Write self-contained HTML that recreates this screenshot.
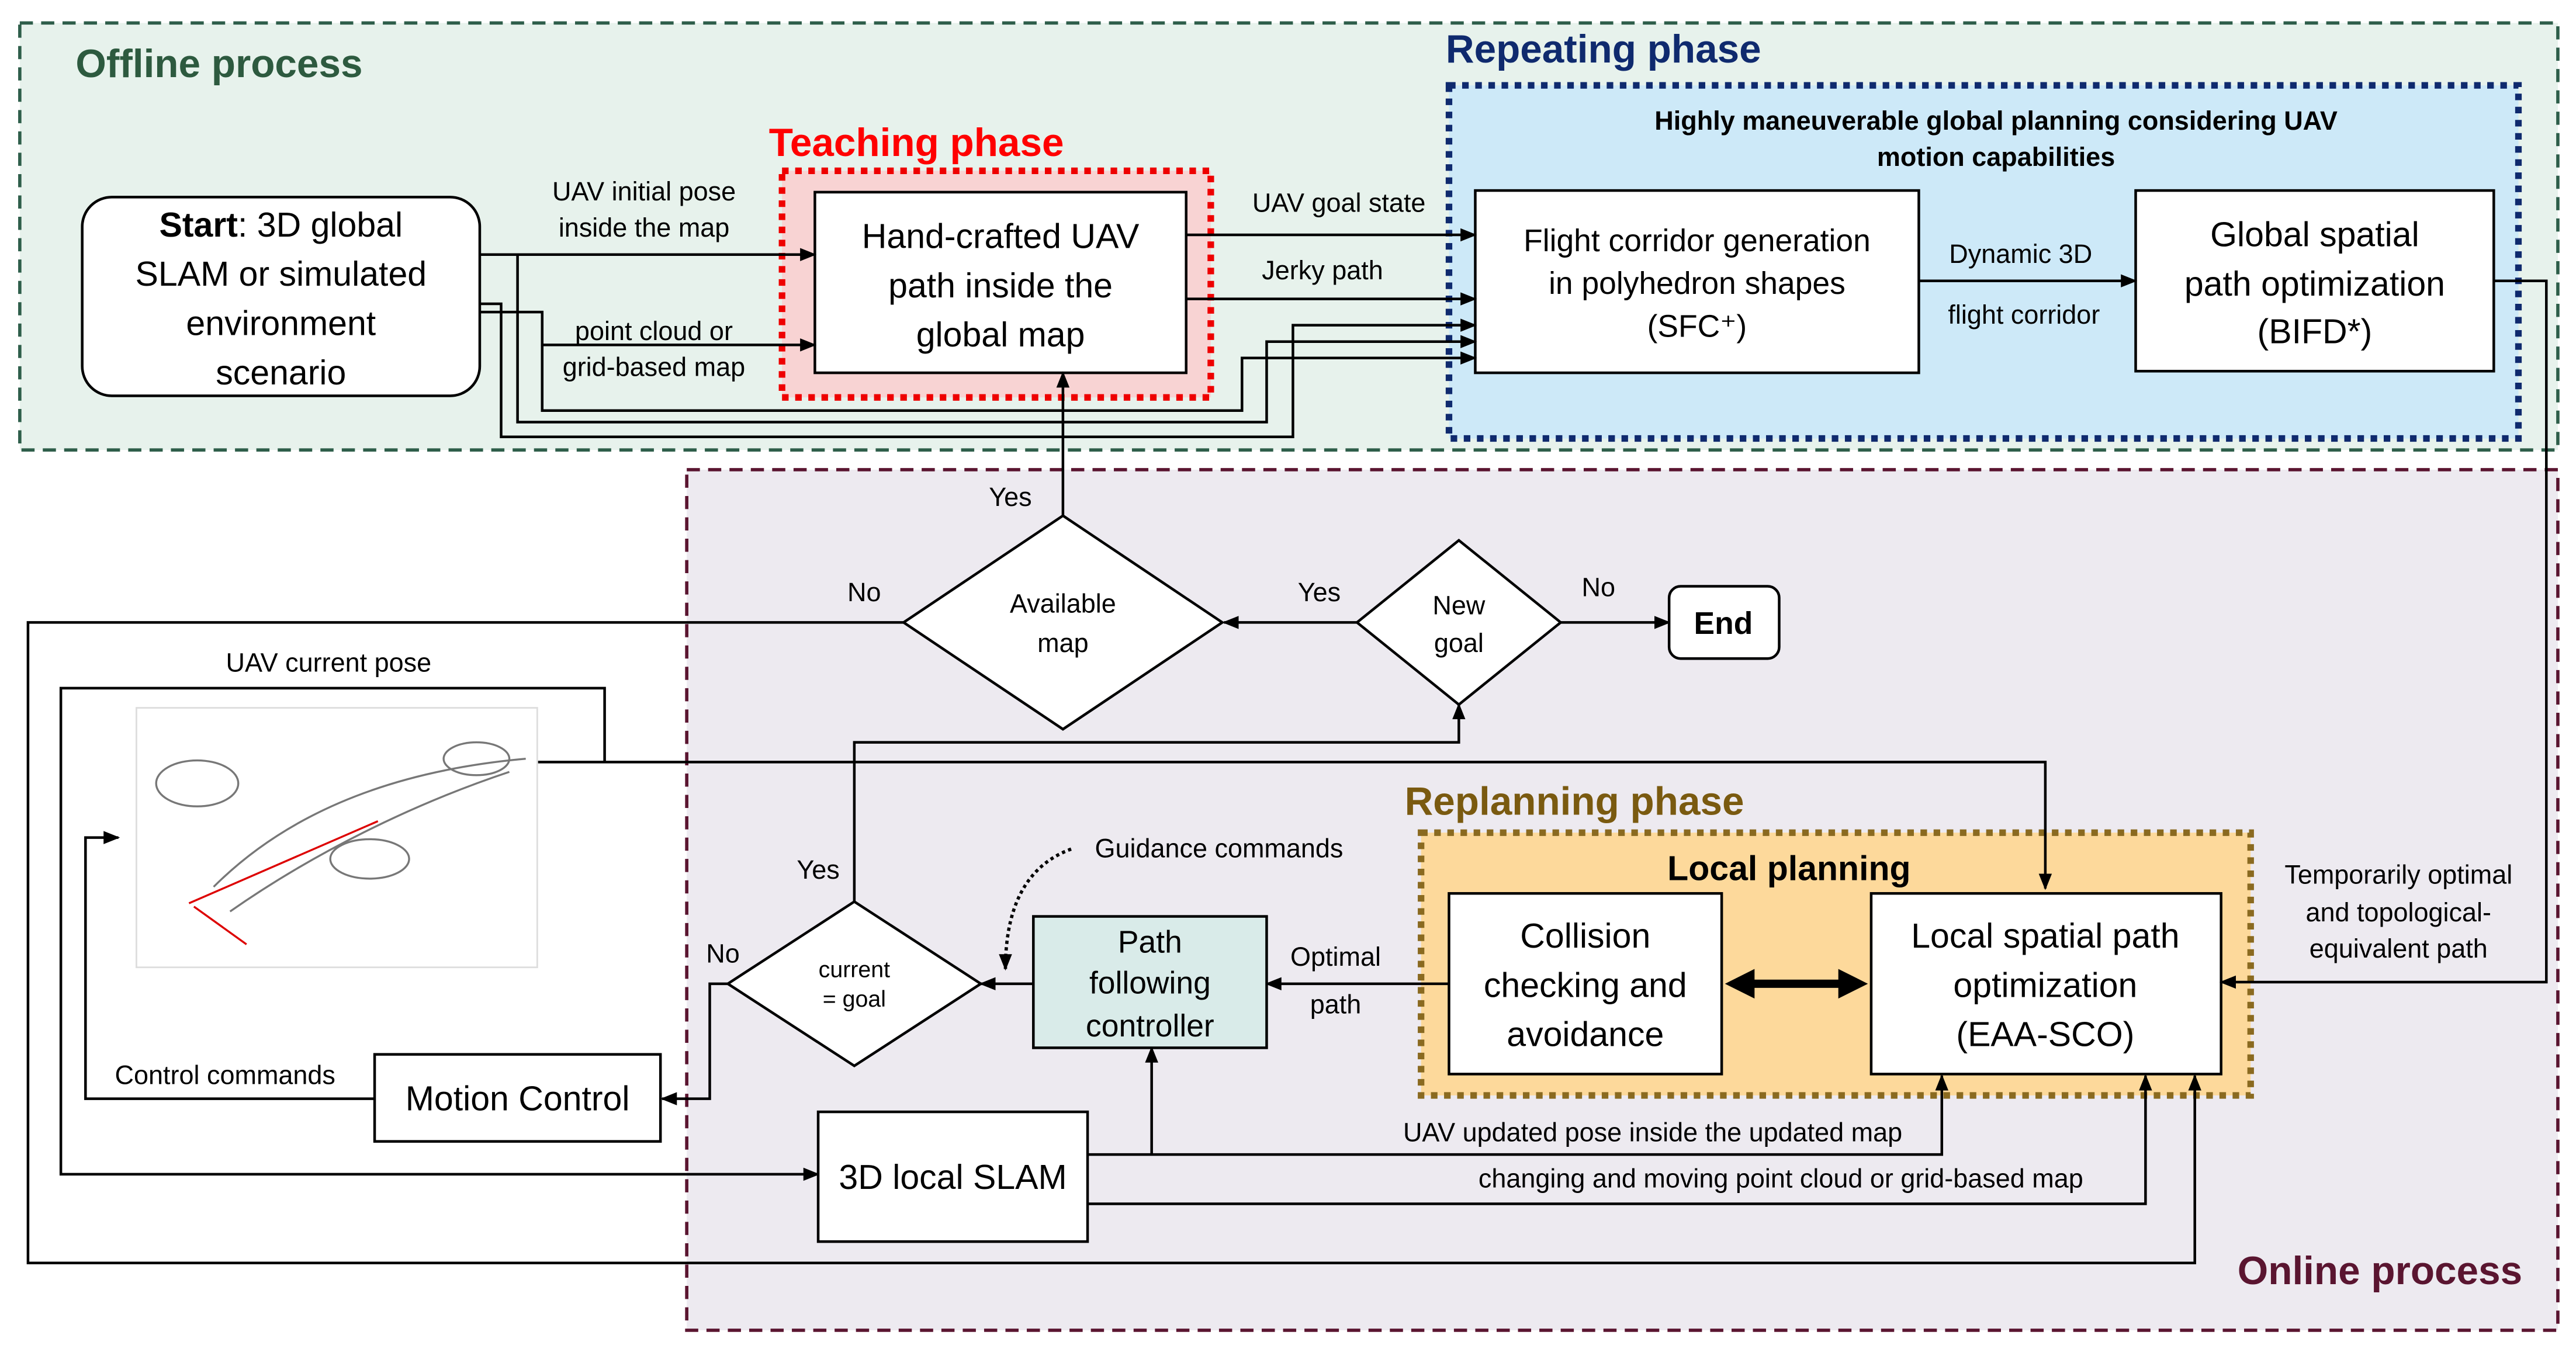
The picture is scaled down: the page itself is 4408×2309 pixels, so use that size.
<!DOCTYPE html>
<html><head><meta charset="utf-8"><style>html,body{margin:0;padding:0;background:#fff}svg{display:block}text{font-family:"Liberation Sans",sans-serif;fill:#000}</style></head><body>
<svg width="4408" height="2309" viewBox="0 0 1568 821.4" xmlns="http://www.w3.org/2000/svg">
<defs><marker id="a" markerWidth="10" markerHeight="10" refX="9" refY="5" orient="auto" markerUnits="userSpaceOnUse"><path d="M0,1 L10,5 L0,9 z" fill="#000"/></marker></defs>
<rect width="1568" height="821.4" fill="#fff"/>
<rect x="12" y="14" width="1545" height="260" fill="#e7f2ec" stroke="#2e5e4a" stroke-width="2" stroke-dasharray="8,5"/>
<text x="46" y="47" font-size="24" font-weight="bold" style="fill:#2d5a3f">Offline process</text>
<rect x="418" y="286" width="1139" height="524" fill="#edeaf0" stroke="#5a1530" stroke-width="2" stroke-dasharray="8,5"/>
<text x="1362" y="782" font-size="24" font-weight="bold" style="fill:#5a1530">Online process</text>
<rect x="882" y="52" width="651" height="215" fill="#cde9f8" stroke="#0f2a6e" stroke-width="4" stroke-dasharray="4,4"/>
<text x="880" y="38" font-size="24" font-weight="bold" style="fill:#0f2a6e">Repeating phase</text>
<text x="1215" y="79" font-size="16" font-weight="bold" text-anchor="middle">Highly maneuverable global planning considering UAV</text>
<text x="1215" y="101" font-size="16" font-weight="bold" text-anchor="middle">motion capabilities</text>
<rect x="476" y="104" width="261" height="138" fill="#f8d3d3" stroke="#e00" stroke-width="4" stroke-dasharray="4,4"/>
<text x="468" y="95" font-size="24" font-weight="bold" style="fill:#f00">Teaching phase</text>
<rect x="865" y="507" width="505" height="160" fill="#fdd99b" stroke="#8a6a20" stroke-width="4" stroke-dasharray="4,4"/>
<text x="855" y="496" font-size="24" font-weight="bold" style="fill:#7a5a10">Replanning phase</text>
<text x="1089" y="536" font-size="21" font-weight="bold" text-anchor="middle">Local planning</text>
<rect x="882" y="544" width="166" height="110" fill="#fff" stroke="#000" stroke-width="1.6"/>
<rect x="1139" y="544" width="213" height="110" fill="#fff" stroke="#000" stroke-width="1.6"/>
<path d="M1065,599 H1122" stroke="#000" stroke-width="5"/>
<path d="M1050,599 L1068,590 L1068,608 z M1137,599 L1119,590 L1119,608 z" fill="#000"/>
<g fill="none" stroke="#000" stroke-width="1.6">
<rect x="496" y="117" width="226" height="110" fill="#fff"/>
<rect x="50" y="120" width="242" height="121" rx="18" fill="#fff"/>
<rect x="898" y="116" width="270" height="111" fill="#fff"/>
<rect x="1300" y="116" width="218" height="110" fill="#fff"/>
<path d="M292,155 H496" marker-end="url(#a)"/>
<path d="M722,143 H898" marker-end="url(#a)"/>
<path d="M722,182 H898" marker-end="url(#a)"/>
<path d="M292,185 H305 V266 H787 V198 H898" marker-end="url(#a)"/>
<path d="M315,155 V257 H771 V208 H898" marker-end="url(#a)"/>
<path d="M292,190 H330 V210 H496" marker-end="url(#a)"/>
<path d="M330,210 V250 H756 V218 H898" marker-end="url(#a)"/>
<path d="M1168,171 H1300" marker-end="url(#a)"/>
<path d="M1518,171 H1550 V598 H1352" marker-end="url(#a)"/>
<path d="M647,314 V227" marker-end="url(#a)"/>
<path d="M550,379 H17 V769 H1336 V655" marker-end="url(#a)"/>
<path d="M826,379 H745" marker-end="url(#a)"/>
<path d="M950,379 H1016" marker-end="url(#a)"/>
<path d="M325,464 H1245 V541" marker-end="url(#a)"/>
<path d="M368,464 V419 H37 V715 H498" marker-end="url(#a)"/>
<path d="M228,669 H52 V510 H72" marker-end="url(#a)"/>
<path d="M520,549 V452 H888 V429" marker-end="url(#a)"/>
<path d="M443,599 H432 V669 H403" marker-end="url(#a)"/>
<path d="M629,599 H597" marker-end="url(#a)"/>
<path d="M701,703 V638" marker-end="url(#a)"/>
<path d="M882,599 H771" marker-end="url(#a)"/>
<path d="M662,703 H1182 V655" marker-end="url(#a)"/>
<path d="M662,733 H1306 V655" marker-end="url(#a)"/>
<path d="M652,517 C630,525 612,545 612,590" stroke-dasharray="2,2" stroke-width="2" marker-end="url(#a)"/>
<polygon points="647,314 744,379 647,444 550,379" fill="#fff"/>
<polygon points="888,329 950,379 888,429 826,379" fill="#fff"/>
<rect x="1016" y="357" width="67" height="44" rx="7" fill="#fff"/>
<polygon points="520,549 597,599 520,649 443,599" fill="#fff"/>
<rect x="228" y="642" width="174" height="53" fill="#fff"/>
<rect x="629" y="558" width="142" height="80" fill="#d9ebe9"/>
<rect x="498" y="677" width="164" height="79" fill="#fff"/>
</g>
<rect x="83" y="431" width="244" height="158" fill="#fff" stroke="#ddd"/>
<g fill="none" stroke="#777" stroke-width="1.2">
<ellipse cx="120" cy="477" rx="25" ry="14"/><ellipse cx="225" cy="523" rx="24" ry="12"/><ellipse cx="290" cy="462" rx="20" ry="10"/>
<path d="M130,540 C170,500 230,470 320,462 M140,555 C190,520 250,490 310,470"/>
<path d="M115,550 L230,500 M118,552 L150,575" stroke="#d00"/>
</g>
<g font-size="21" text-anchor="middle">
<text x="171" y="144"><tspan font-weight="bold">Start</tspan>: 3D global</text>
<text x="171" y="174">SLAM or simulated</text><text x="171" y="204">environment</text><text x="171" y="234">scenario</text>
<text x="609" y="151">Hand-crafted UAV</text><text x="609" y="181">path inside the</text><text x="609" y="211">global map</text>
<text x="1409" y="150">Global spatial</text><text x="1409" y="180">path optimization</text><text x="1409" y="209">(BIFD*)</text>
<text x="965" y="577">Collision</text><text x="965" y="607">checking and</text><text x="965" y="637">avoidance</text>
<text x="1245" y="577">Local spatial path</text><text x="1245" y="607">optimization</text><text x="1245" y="637">(EAA-SCO)</text>
<text x="315" y="676">Motion Control</text>
<text x="580" y="724">3D local SLAM</text>
<text x="1049" y="386" font-weight="bold" font-size="19">End</text>
</g>
<g font-size="19" text-anchor="middle">
<text x="1033" y="153">Flight corridor generation</text><text x="1033" y="179">in polyhedron shapes</text><text x="1033" y="205">(SFC⁺)</text>
<text x="700" y="580">Path</text><text x="700" y="605">following</text><text x="700" y="631">controller</text>
</g>
<g font-size="16" text-anchor="middle">
<text x="392" y="122">UAV initial pose</text><text x="392" y="144">inside the map</text>
<text x="398" y="207">point cloud or</text><text x="398" y="229">grid-based map</text>
<text x="815" y="129">UAV goal state</text><text x="805" y="170">Jerky path</text>
<text x="1230" y="160">Dynamic 3D</text><text x="1232" y="197">flight corridor</text>
<text x="647" y="373">Available</text><text x="647" y="397">map</text>
<text x="888" y="374">New</text><text x="888" y="397">goal</text>
<text x="615" y="308">Yes</text><text x="526" y="366">No</text><text x="803" y="366">Yes</text><text x="973" y="363">No</text>
<text x="200" y="409">UAV current pose</text>
<text x="742" y="522">Guidance commands</text>
<text x="498" y="535">Yes</text><text x="440" y="586">No</text>
<text x="137" y="660">Control commands</text>
<text x="813" y="588">Optimal</text><text x="813" y="617">path</text>
<text x="1006" y="695">UAV updated pose inside the updated map</text>
<text x="1084" y="723">changing and moving point cloud or grid-based map</text>
<text x="1460" y="538">Temporarily optimal</text><text x="1460" y="561">and topological-</text><text x="1460" y="583">equivalent path</text>
</g>
<g font-size="14" text-anchor="middle"><text x="520" y="595">current</text><text x="520" y="613">= goal</text></g>
</svg>
</body></html>
